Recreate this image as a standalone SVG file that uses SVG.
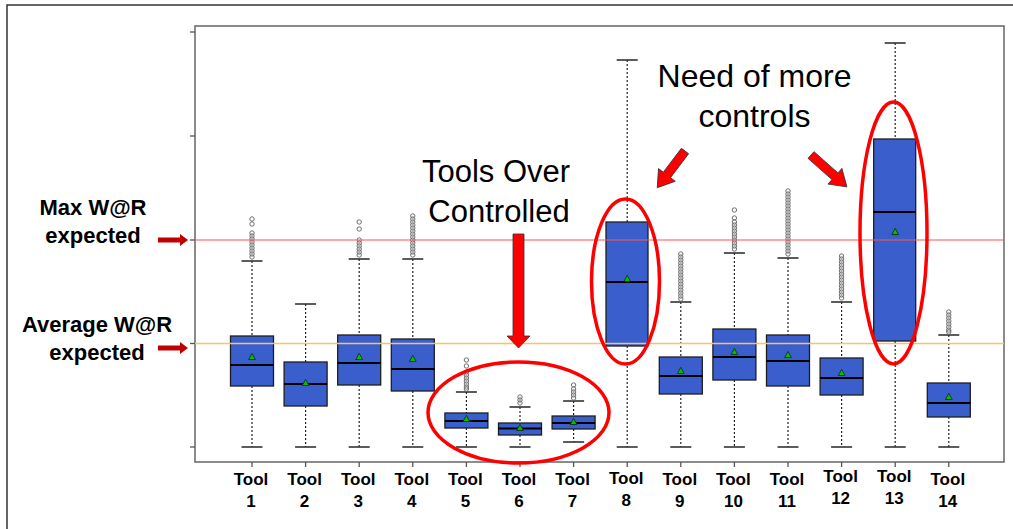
<svg xmlns="http://www.w3.org/2000/svg" xmlns:xlink="http://www.w3.org/1999/xlink" width="1013" height="529" viewBox="0 0 1013 529">
<style>
.frame{fill:none;stroke:#333;stroke-width:1.5}
.plot{fill:#fff;stroke:#666;stroke-width:1.5}
.tick{stroke:#555;stroke-width:1.3}
.wh{stroke:#222;stroke-width:1.2;stroke-dasharray:2 2}
.cap{stroke:#333;stroke-width:1.6}
.box{fill:#3a5fcd;stroke:#1e1e1e;stroke-width:1.3}
.med{stroke:#000;stroke-width:2.2}
.o{fill:none;stroke:#707070;stroke-width:1}
.ell{fill:none;stroke:#ff0000;stroke-width:3.5}
.arr{fill:#ff0000;stroke:#333;stroke-width:0.8}
.sarr{fill:#c00000}
.lbl{font-family:"Liberation Sans",Arial,sans-serif;font-weight:bold;font-size:22px;fill:#000;text-anchor:middle}
.tl{font-family:"Liberation Sans",Arial,sans-serif;font-weight:bold;font-size:17px;fill:#000;text-anchor:middle}
.ann{font-family:"Liberation Sans",Arial,sans-serif;fill:#000;text-anchor:middle}
</style>
<defs>
<path id="m" d="M0,-3.6 L3.4,2.5 L-3.4,2.5Z" fill="#00c000" stroke="#153015" stroke-width="0.9"/>
<circle id="c" r="2.2" class="o"/>
</defs>
<rect x="0" y="0" width="1013" height="529" fill="#fff"/>
<rect class="frame" x="7" y="5" width="1020" height="540"/>
<rect class="plot" x="195" y="26" width="809" height="436"/>
<g id="axis">
<line class="tick" x1="190" y1="32" x2="195" y2="32"/>
<line class="tick" x1="190" y1="136" x2="195" y2="136"/>
<line class="tick" x1="190" y1="240" x2="195" y2="240"/>
<line class="tick" x1="190" y1="343.5" x2="195" y2="343.5"/>
<line class="tick" x1="190" y1="447" x2="195" y2="447"/>
<line class="tick" x1="252" y1="462" x2="252" y2="467"/>
<line class="tick" x1="305.6" y1="462" x2="305.6" y2="467"/>
<line class="tick" x1="359.2" y1="462" x2="359.2" y2="467"/>
<line class="tick" x1="412.8" y1="462" x2="412.8" y2="467"/>
<line class="tick" x1="466.4" y1="462" x2="466.4" y2="467"/>
<line class="tick" x1="520" y1="462" x2="520" y2="467"/>
<line class="tick" x1="573.6" y1="462" x2="573.6" y2="467"/>
<line class="tick" x1="627.2" y1="462" x2="627.2" y2="467"/>
<line class="tick" x1="680.8" y1="462" x2="680.8" y2="467"/>
<line class="tick" x1="734.4" y1="462" x2="734.4" y2="467"/>
<line class="tick" x1="788" y1="462" x2="788" y2="467"/>
<line class="tick" x1="841.6" y1="462" x2="841.6" y2="467"/>
<line class="tick" x1="895.2" y1="462" x2="895.2" y2="467"/>
<line class="tick" x1="948.8" y1="462" x2="948.8" y2="467"/>
</g>

<g id="tool1">
<line class="wh" x1="252" y1="261" x2="252" y2="336"/><line class="wh" x1="252" y1="386" x2="252" y2="447"/>
<line class="cap" x1="241.5" y1="261" x2="262.5" y2="261"/><line class="cap" x1="241.5" y1="447" x2="262.5" y2="447"/>
<g transform="translate(252,0)"><use href="#c" y="219"/><use href="#c" y="224"/><use href="#c" y="233"/><use href="#c" y="236"/><use href="#c" y="239"/><use href="#c" y="242"/><use href="#c" y="245"/><use href="#c" y="248"/><use href="#c" y="251"/><use href="#c" y="254"/><use href="#c" y="257"/></g>
<rect class="box" x="230.5" y="336" width="43" height="50"/><line class="med" x1="230.5" y1="365" x2="273.5" y2="365"/><use href="#m" x="252" y="357"/>
<text class="tl" x="251" y="485">Tool</text><text class="tl" x="251" y="507">1</text>
</g>
<g id="tool2">
<line class="wh" x1="305.6" y1="304" x2="305.6" y2="362"/><line class="wh" x1="305.6" y1="406" x2="305.6" y2="447"/>
<line class="cap" x1="295.1" y1="304" x2="316.1" y2="304"/><line class="cap" x1="295.1" y1="447" x2="316.1" y2="447"/>
<rect class="box" x="284.1" y="362" width="43" height="44"/><line class="med" x1="284.1" y1="384" x2="327.1" y2="384"/><use href="#m" x="305.6" y="383"/>
<text class="tl" x="304.6" y="485">Tool</text><text class="tl" x="304.6" y="507">2</text>
</g>
<g id="tool3">
<line class="wh" x1="359.2" y1="259" x2="359.2" y2="335"/><line class="wh" x1="359.2" y1="385" x2="359.2" y2="447"/>
<line class="cap" x1="348.7" y1="259" x2="369.7" y2="259"/><line class="cap" x1="348.7" y1="447" x2="369.7" y2="447"/>
<g transform="translate(359.2,0)"><use href="#c" y="222"/><use href="#c" y="229"/><use href="#c" y="240"/><use href="#c" y="243"/><use href="#c" y="246"/><use href="#c" y="249"/><use href="#c" y="252"/><use href="#c" y="255"/></g>
<rect class="box" x="337.7" y="335" width="43" height="50"/><line class="med" x1="337.7" y1="363" x2="380.7" y2="363"/><use href="#m" x="359.2" y="357"/>
<text class="tl" x="358.2" y="485">Tool</text><text class="tl" x="358.2" y="507">3</text>
</g>
<g id="tool4">
<line class="wh" x1="412.8" y1="259" x2="412.8" y2="339"/><line class="wh" x1="412.8" y1="391" x2="412.8" y2="447"/>
<line class="cap" x1="402.3" y1="259" x2="423.3" y2="259"/><line class="cap" x1="402.3" y1="447" x2="423.3" y2="447"/>
<g transform="translate(412.8,0)"><use href="#c" y="216"/><use href="#c" y="219"/><use href="#c" y="222"/><use href="#c" y="225"/><use href="#c" y="228"/><use href="#c" y="231"/><use href="#c" y="234"/><use href="#c" y="237"/><use href="#c" y="240"/><use href="#c" y="243"/><use href="#c" y="246"/><use href="#c" y="249"/><use href="#c" y="252"/><use href="#c" y="255"/></g>
<rect class="box" x="391.3" y="339" width="43" height="52"/><line class="med" x1="391.3" y1="369" x2="434.3" y2="369"/><use href="#m" x="412.8" y="359"/>
<text class="tl" x="411.8" y="485">Tool</text><text class="tl" x="411.8" y="507">4</text>
</g>
<g id="tool5">
<line class="wh" x1="466.4" y1="392" x2="466.4" y2="413"/><line class="wh" x1="466.4" y1="428" x2="466.4" y2="447"/>
<line class="cap" x1="455.9" y1="392" x2="476.9" y2="392"/><line class="cap" x1="455.9" y1="447" x2="476.9" y2="447"/>
<g transform="translate(466.4,0)"><use href="#c" y="360"/><use href="#c" y="366"/><use href="#c" y="372"/><use href="#c" y="375"/><use href="#c" y="378"/><use href="#c" y="381"/><use href="#c" y="384"/><use href="#c" y="387"/><use href="#c" y="389"/></g>
<rect class="box" x="444.9" y="413" width="43" height="15"/><line class="med" x1="444.9" y1="421" x2="487.9" y2="421"/><use href="#m" x="466.4" y="419"/>
<text class="tl" x="465.4" y="485">Tool</text><text class="tl" x="465.4" y="507">5</text>
</g>
<g id="tool6">
<line class="wh" x1="520" y1="407" x2="520" y2="423"/><line class="wh" x1="520" y1="435" x2="520" y2="447"/>
<line class="cap" x1="509.5" y1="407" x2="530.5" y2="407"/><line class="cap" x1="509.5" y1="447" x2="530.5" y2="447"/>
<g transform="translate(520,0)"><use href="#c" y="397"/><use href="#c" y="400"/><use href="#c" y="403"/></g>
<rect class="box" x="498.5" y="423" width="43" height="12"/><line class="med" x1="498.5" y1="428.5" x2="541.5" y2="428.5"/><use href="#m" x="520" y="428"/>
<text class="tl" x="519" y="485">Tool</text><text class="tl" x="519" y="507">6</text>
</g>
<g id="tool7">
<line class="wh" x1="573.6" y1="401" x2="573.6" y2="416"/><line class="wh" x1="573.6" y1="429" x2="573.6" y2="442"/>
<line class="cap" x1="563.1" y1="401" x2="584.1" y2="401"/><line class="cap" x1="563.1" y1="442" x2="584.1" y2="442"/>
<g transform="translate(573.6,0)"><use href="#c" y="385"/><use href="#c" y="389"/><use href="#c" y="392"/><use href="#c" y="395"/><use href="#c" y="398"/></g>
<rect class="box" x="552.1" y="416" width="43" height="13"/><line class="med" x1="552.1" y1="423" x2="595.1" y2="423"/><use href="#m" x="573.6" y="422"/>
<text class="tl" x="572.6" y="485">Tool</text><text class="tl" x="572.6" y="507">7</text>
</g>
<g id="tool8">
<line class="wh" x1="627.2" y1="60" x2="627.2" y2="222"/><line class="wh" x1="627.2" y1="346" x2="627.2" y2="447"/>
<line class="cap" x1="616.7" y1="60" x2="637.7" y2="60"/><line class="cap" x1="616.7" y1="447" x2="637.7" y2="447"/>
<rect class="box" x="606" y="222" width="42" height="124"/><line class="med" x1="606" y1="282" x2="648" y2="282"/><use href="#m" x="627.2" y="279"/>
<text class="tl" x="626.2" y="484">Tool</text><text class="tl" x="626.2" y="506">8</text>
</g>
<g id="tool9">
<line class="wh" x1="680.8" y1="302" x2="680.8" y2="357"/><line class="wh" x1="680.8" y1="394" x2="680.8" y2="447"/>
<line class="cap" x1="670.3" y1="302" x2="691.3" y2="302"/><line class="cap" x1="670.3" y1="447" x2="691.3" y2="447"/>
<g transform="translate(680.8,0)"><use href="#c" y="254"/><use href="#c" y="257"/><use href="#c" y="260"/><use href="#c" y="263"/><use href="#c" y="266"/><use href="#c" y="269"/><use href="#c" y="272"/><use href="#c" y="275"/><use href="#c" y="278"/><use href="#c" y="281"/><use href="#c" y="284"/><use href="#c" y="287"/><use href="#c" y="290"/><use href="#c" y="293"/><use href="#c" y="296"/><use href="#c" y="299"/></g>
<rect class="box" x="659.3" y="357" width="43" height="37"/><line class="med" x1="659.3" y1="376" x2="702.3" y2="376"/><use href="#m" x="680.8" y="371"/>
<text class="tl" x="679.8" y="485">Tool</text><text class="tl" x="679.8" y="507">9</text>
</g>
<g id="tool10">
<line class="wh" x1="734.4" y1="253" x2="734.4" y2="329"/><line class="wh" x1="734.4" y1="380" x2="734.4" y2="447"/>
<line class="cap" x1="723.9" y1="253" x2="744.9" y2="253"/><line class="cap" x1="723.9" y1="447" x2="744.9" y2="447"/>
<g transform="translate(734.4,0)"><use href="#c" y="210"/><use href="#c" y="218"/><use href="#c" y="222"/><use href="#c" y="225"/><use href="#c" y="228"/><use href="#c" y="231"/><use href="#c" y="234"/><use href="#c" y="237"/><use href="#c" y="240"/><use href="#c" y="243"/><use href="#c" y="246"/><use href="#c" y="249"/></g>
<rect class="box" x="712.9" y="329" width="43" height="51"/><line class="med" x1="712.9" y1="357" x2="755.9" y2="357"/><use href="#m" x="734.4" y="352"/>
<text class="tl" x="733.4" y="485">Tool</text><text class="tl" x="733.4" y="507">10</text>
</g>
<g id="tool11">
<line class="wh" x1="788" y1="258" x2="788" y2="335"/><line class="wh" x1="788" y1="386" x2="788" y2="447"/>
<line class="cap" x1="777.5" y1="258" x2="798.5" y2="258"/><line class="cap" x1="777.5" y1="447" x2="798.5" y2="447"/>
<g transform="translate(788,0)"><use href="#c" y="191"/><use href="#c" y="194"/><use href="#c" y="197"/><use href="#c" y="200"/><use href="#c" y="203"/><use href="#c" y="206"/><use href="#c" y="209"/><use href="#c" y="212"/><use href="#c" y="215"/><use href="#c" y="218"/><use href="#c" y="221"/><use href="#c" y="224"/><use href="#c" y="227"/><use href="#c" y="230"/><use href="#c" y="233"/><use href="#c" y="236"/><use href="#c" y="239"/><use href="#c" y="242"/><use href="#c" y="245"/><use href="#c" y="248"/><use href="#c" y="251"/><use href="#c" y="254"/></g>
<rect class="box" x="766.5" y="335" width="43" height="51"/><line class="med" x1="766.5" y1="361" x2="809.5" y2="361"/><use href="#m" x="788" y="355"/>
<text class="tl" x="787" y="485">Tool</text><text class="tl" x="787" y="507">11</text>
</g>
<g id="tool12">
<line class="wh" x1="841.6" y1="302" x2="841.6" y2="358"/><line class="wh" x1="841.6" y1="395" x2="841.6" y2="447"/>
<line class="cap" x1="831.1" y1="302" x2="852.1" y2="302"/><line class="cap" x1="831.1" y1="447" x2="852.1" y2="447"/>
<g transform="translate(841.6,0)"><use href="#c" y="256"/><use href="#c" y="259"/><use href="#c" y="262"/><use href="#c" y="265"/><use href="#c" y="268"/><use href="#c" y="271"/><use href="#c" y="274"/><use href="#c" y="277"/><use href="#c" y="280"/><use href="#c" y="283"/><use href="#c" y="286"/><use href="#c" y="289"/><use href="#c" y="292"/><use href="#c" y="295"/><use href="#c" y="298"/></g>
<rect class="box" x="820.1" y="358" width="43" height="37"/><line class="med" x1="820.1" y1="378" x2="863.1" y2="378"/><use href="#m" x="841.6" y="373"/>
<text class="tl" x="840.6" y="482">Tool</text><text class="tl" x="840.6" y="504">12</text>
</g>
<g id="tool13">
<line class="wh" x1="895.2" y1="43" x2="895.2" y2="139"/><line class="wh" x1="895.2" y1="341" x2="895.2" y2="447"/>
<line class="cap" x1="884.7" y1="43" x2="905.7" y2="43"/><line class="cap" x1="884.7" y1="447" x2="905.7" y2="447"/>
<rect class="box" x="873.7" y="139" width="42" height="202"/><line class="med" x1="873.7" y1="212" x2="915.7" y2="212"/><use href="#m" x="895.2" y="232"/>
<text class="tl" x="894.2" y="482">Tool</text><text class="tl" x="894.2" y="504">13</text>
</g>
<g id="tool14">
<line class="wh" x1="948.8" y1="335" x2="948.8" y2="383"/><line class="wh" x1="948.8" y1="417" x2="948.8" y2="447"/>
<line class="cap" x1="938.3" y1="335" x2="959.3" y2="335"/><line class="cap" x1="938.3" y1="447" x2="959.3" y2="447"/>
<g transform="translate(948.8,0)"><use href="#c" y="312"/><use href="#c" y="315"/><use href="#c" y="318"/><use href="#c" y="321"/><use href="#c" y="324"/><use href="#c" y="327"/><use href="#c" y="330"/><use href="#c" y="332"/></g>
<rect class="box" x="927.3" y="383" width="43" height="34"/><line class="med" x1="927.3" y1="403" x2="970.3" y2="403"/><use href="#m" x="948.8" y="397"/>
<text class="tl" x="947.8" y="485">Tool</text><text class="tl" x="947.8" y="507">14</text>
</g>

<g id="reflines">
<line x1="195" y1="240" x2="1004" y2="240" stroke="#ff5555" stroke-width="1.2"/>
<line x1="195" y1="343.5" x2="1004" y2="343.5" stroke="#fbc068" stroke-width="1.6"/>
</g>

<g id="labels">
<text class="lbl" x="93" y="215">Max W@R</text>
<text class="lbl" x="93" y="243">expected</text>
<text class="lbl" x="97" y="332">Average W@R</text>
<text class="lbl" x="97" y="360">expected</text>
<text class="ann" x="496" y="182" font-size="31">Tools Over</text>
<text class="ann" x="499" y="222" font-size="31">Controlled</text>
<text class="ann" x="754.5" y="87" font-size="32">Need of more</text>
<text class="ann" x="754.5" y="127" font-size="32">controls</text>
</g>

<g id="highlights">
<ellipse class="ell" cx="518.5" cy="412.5" rx="90.5" ry="50.5"/>
<ellipse class="ell" cx="625.5" cy="281.5" rx="34" ry="82.5"/>
<ellipse class="ell" cx="893.5" cy="233" rx="33.5" ry="131"/>
</g>

<g id="connectors">
<polygon class="sarr" points="158,237.5 180,237.5 180,234 188,240 180,246 180,242.5 158,242.5"/>
<polygon class="sarr" points="158,345.5 180,345.5 180,342 188,348 180,354 180,350.5 158,350.5"/>
<polygon class="arr" points="513,234 524,234 524,336 530,336 518.5,348 507,336 513,336"/>
<polygon class="arr" transform="translate(685,151) rotate(127.1)" points="0,-4.5 30,-4.5 30,-10.5 46,0 30,10.5 30,4.5 0,4.5"/>
<polygon class="arr" transform="translate(811,155) rotate(41.6)" points="0,-4.5 32,-4.5 32,-10.5 48,0 32,10.5 32,4.5 0,4.5"/>
</g>
</svg>
